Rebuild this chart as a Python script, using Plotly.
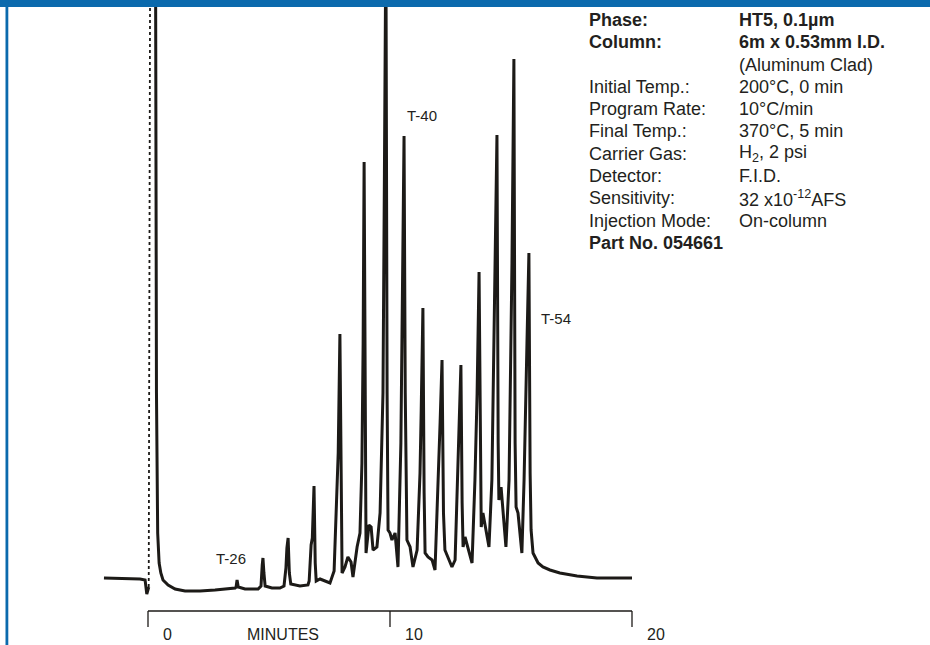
import plotly.graph_objects as go

# ---------------- data ----------------
# chromatogram trace (time in minutes, detector signal in arbitrary units); None = pen lift
time_min = [
    -1.82, -0.33, -0.12, -0.05, 0.03, None,
    0.31, 0.35, 0.40, 0.46, 0.53, 0.62, 0.83, 1.12, 1.53, 2.15, 2.77, 3.39, 3.60,
    3.64, 3.68, 3.73, 4.01, 4.55,
    4.67, 4.72, 4.75, 4.79, 4.84, 5.12, 5.45, 5.62,
    5.70, 5.74, 5.79, 5.84, 5.90, 6.28, 6.61,
    6.66, 6.74, 6.79, 6.86, 6.91, 6.95, 7.11, 7.31, 7.52,
    7.69, 7.79, 7.86, 7.93, 7.98, 8.02, 8.14, 8.26, 8.39, 8.47, 8.64, 8.76,
    8.84, 8.89, 8.93, 8.97, 9.01, 9.13, 9.22, 9.30, 9.46, 9.59,
    9.71, 9.77, 9.83, 9.88, 9.92, 10.00, 10.08, 10.21, 10.33,
    10.45, 10.52, 10.58, 10.63, 10.70, 10.83, 10.95, 11.12,
    11.24, 11.29, 11.36, 11.41, 11.45, 11.57, 11.74, 11.86,
    11.98, 12.07, 12.15, 12.21, 12.27, 12.40, 12.56, 12.69,
    12.81, 12.88, 12.93, 12.98, 13.02, 13.10, 13.22, 13.39,
    13.51, 13.60, 13.68, 13.73, 13.77, 13.84, 13.97, 14.09,
    14.21, 14.34, 14.42, 14.47, 14.50, 14.59, 14.67, 14.79,
    14.92, 15.04, 15.12, 15.17, 15.21, 15.29, 15.45,
    15.54, 15.66, 15.74, 15.79, 15.83, 15.91, 16.12, 16.32, 16.61, 17.02, 17.73, 18.55, 20.00,
]
signal = [
    15, 14, 13, -1, 6, None,
    660, 200, 60, 30, 20, 13, 8, 4, 2, 2, 3, 4, 5,
    6, 13, 6, 4, 4,
    7, 28, 35, 20, 7, 5, 5, 7,
    25, 45, 55, 20, 9, 7, 8,
    12, 48, 55, 107, 30, 12, 14, 12, 10,
    22, 95, 140, 259, 60, 20, 26, 36, 31, 16, 46, 60,
    130, 250, 431, 120, 40, 68, 66, 43, 46, 80,
    200, 420, 660, 200, 63, 60, 53, 60, 26,
    150, 300, 457, 200, 53, 46, 26, 43,
    120, 183, 285, 100, 40, 36, 33, 23,
    100, 170, 233, 80, 43, 36, 26, 33,
    140, 180, 228, 90, 46, 56, 46, 30,
    113, 200, 321, 120, 66, 80, 60, 46,
    113, 300, 458, 150, 93, 106, 80, 46,
    113, 330, 534, 150, 86, 80, 40,
    113, 250, 340, 120, 63, 40, 30, 26, 23, 20, 17, 15, 15,
]
# faint (dotted) leading edge of the solvent peak
solvent_rise_time = [0.03, 0.09]
solvent_rise_signal = [6, 660]

# peak labels
peak_names = ["T-26", "T-40", "T-54"]
peak_label_time = [3.43, 11.32, 16.86]
peak_label_signal = [35, 478, 275]

# time axis
tick_values = [0, 10, 20]
tick_labels = ["0", "10", "20"]
axis_title = "MINUTES"

# conditions table
cond_labels = ["<b>Phase:</b>", "<b>Column:</b>", "", "Initial Temp.:", "Program Rate:",
               "Final Temp.:", "Carrier Gas:", "Detector:", "Sensitivity:",
               "Injection Mode:", "<b>Part No. 054661</b>"]
cond_values = ["<b>HT5, 0.1µm</b>", "<b>6m x 0.53mm I.D.</b>", "(Aluminum Clad)",
               "200°C, 0 min", "10°C/min", "370°C, 5 min", "H<sub>2</sub>, 2 psi",
               "F.I.D.", "32 x10<sup>-12</sup>AFS", "On-column", ""]

# ---------------- figure ----------------
W, H = 930, 645
BLUE = "#0b6aad"
INK = "#1c1a17"
TXT = "#231f20"
FONT = "Liberation Sans, Arial, sans-serif"

# pixel mapping of the reference: t=0 at x=148, 24.2 px per minute; signal 0 at y=593, 1 px per unit
X_RANGE = [(0 - 148) / 24.2, (W - 148) / 24.2]
Y_RANGE = [593 - H, 593 - 0]

fig = go.Figure()
fig.add_trace(go.Scatter(x=solvent_rise_time, y=solvent_rise_signal, mode="lines",
                         line=dict(color=INK, width=1.8, dash="dot"), hoverinfo="skip"))
fig.add_trace(go.Scatter(x=time_min, y=signal, mode="lines", connectgaps=False,
                         line=dict(color=INK, width=3), hoverinfo="skip"))

shapes = []
# time axis line and ticks (data coordinates)
axis_y = -18
tick_bottom = -34
shapes.append(dict(type="line", xref="x", yref="y", x0=tick_values[0], x1=tick_values[-1],
                   y0=axis_y, y1=axis_y, line=dict(color=INK, width=1.3)))
for tv in tick_values:
    shapes.append(dict(type="line", xref="x", yref="y", x0=tv, x1=tv,
                       y0=axis_y, y1=tick_bottom, line=dict(color=INK, width=1.3)))
# blue frame: header bar and left rule
shapes.append(dict(type="rect", xref="paper", yref="paper", x0=0, x1=1,
                   y0=1 - 7 / H, y1=1.01, fillcolor=BLUE, line=dict(width=0), layer="above"))
shapes.append(dict(type="rect", xref="paper", yref="paper", x0=5.5 / W, x1=8.3 / W,
                   y0=-0.01, y1=1, fillcolor=BLUE, line=dict(width=0), layer="above"))

annotations = []
label_y = -41
for tv, tl in zip(tick_values, tick_labels):
    annotations.append(dict(x=tv + 0.55, y=label_y, xref="x", yref="y", text=tl,
                            showarrow=False, xanchor="left", yanchor="middle",
                            font=dict(family=FONT, size=16, color=TXT)))
annotations.append(dict(x=5.58, y=label_y, xref="x", yref="y", text=axis_title,
                        showarrow=False, xanchor="center", yanchor="middle",
                        font=dict(family=FONT, size=16, color=TXT)))
for nm, tx, sy in zip(peak_names, peak_label_time, peak_label_signal):
    annotations.append(dict(x=tx, y=sy, xref="x", yref="y", text=nm, showarrow=False,
                            xanchor="center", yanchor="middle",
                            font=dict(family=FONT, size=15, color=TXT)))

col1_x, col2_x = 587, 737
row0_y, row_step = 20, 22.3
for i, (lab, val) in enumerate(zip(cond_labels, cond_values)):
    py = row0_y + i * row_step
    if lab:
        annotations.append(dict(x=col1_x / W, y=1 - py / H, xref="paper", yref="paper",
                                text=lab, showarrow=False, xanchor="left", yanchor="middle",
                                font=dict(family=FONT, size=18, color=TXT)))
    if val:
        annotations.append(dict(x=col2_x / W, y=1 - py / H, xref="paper", yref="paper",
                                text=val, showarrow=False, xanchor="left", yanchor="middle",
                                font=dict(family=FONT, size=18, color=TXT)))

fig.update_layout(
    width=W, height=H,
    margin=dict(l=0, r=0, t=0, b=0),
    paper_bgcolor="white", plot_bgcolor="white",
    showlegend=False,
    xaxis=dict(range=X_RANGE, visible=False, fixedrange=True),
    yaxis=dict(range=Y_RANGE, visible=False, fixedrange=True),
    shapes=shapes,
    annotations=annotations,
)

fig.write_html("out.html", config={"displayModeBar": False})
